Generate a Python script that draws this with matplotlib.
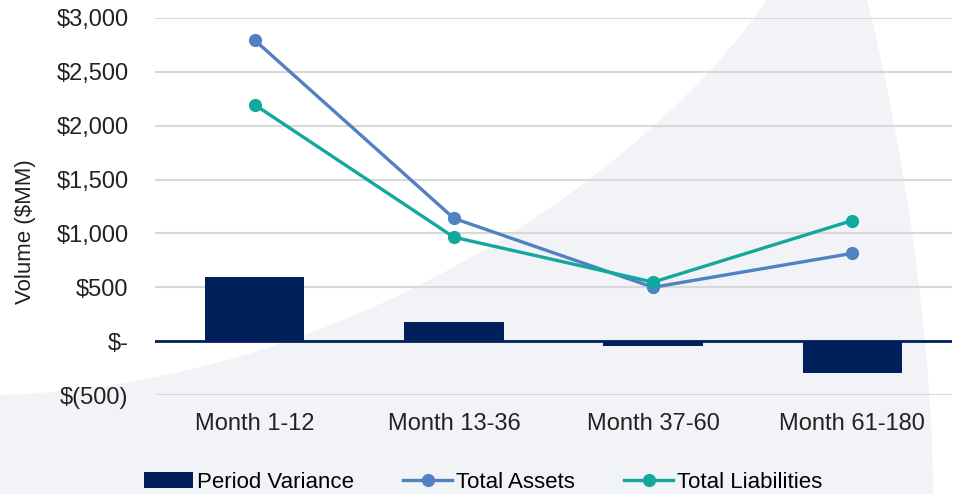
import matplotlib.pyplot as plt
from matplotlib.path import Path
from matplotlib.patches import PathPatch
from matplotlib.transforms import Affine2D

categories = ['Month 1-12', 'Month 13-36', 'Month 37-60', 'Month 61-180']
period_variance = [600, 175, -48, -300]
total_assets = [2795, 1140, 500, 815]
total_liabilities = [2195, 965, 548, 1120]
y_ticks = [-500, 0, 500, 1000, 1500, 2000, 2500, 3000]
y_tick_labels = ['$(500)', '$-', '$500', '$1,000', '$1,500', '$2,000', '$2,500', '$3,000']

navy = '#00205B'
blue = '#5081C0'
teal = '#13A89E'

plt.rcParams['font.family'] = ['Liberation Sans', 'DejaVu Sans']

W, H = 957, 494
fig = plt.figure(figsize=(W / 100, H / 100), dpi=100)

# decorative light background shape, drawn in pixel coords (y down)
verts = [(0, 395), (350, 385), (650, 170), (767, 0),
         (867, 0),
         (905, 150), (933, 350), (933, 494),
         (0, 494), (0, 395)]
codes = [Path.MOVETO, Path.CURVE4, Path.CURVE4, Path.CURVE4,
         Path.LINETO,
         Path.CURVE4, Path.CURVE4, Path.CURVE4,
         Path.LINETO, Path.CLOSEPOLY]
pix = Affine2D().scale(1 / W, -1 / H).translate(0, 1) + fig.transFigure
fig.patches.append(PathPatch(Path(verts, codes), facecolor='#F1F3F7',
                             edgecolor='none', transform=pix, zorder=-5))

ax = fig.add_axes([155 / W, 1 - 395 / H, (952 - 155) / W, (395 - 18) / H])
ax.set_facecolor('none')
ax.set_zorder(1)

x = range(len(categories))
bars = ax.bar(x, period_variance, width=0.5, color=navy, label='Period Variance', zorder=2)
la, = ax.plot(x, total_assets, color=blue, lw=2.4, marker='o', ms=8.5,
              label='Total Assets', zorder=3)
ll, = ax.plot(x, total_liabilities, color=teal, lw=2.4, marker='o', ms=8.5,
              label='Total Liabilities', zorder=4)

ax.set_xlim(-0.5, len(categories) - 0.5)
ax.set_ylim(-500, 3000)
ax.set_yticks(y_ticks)
ax.set_yticklabels(y_tick_labels)
ax.set_xticks(list(x))
ax.set_xticklabels(categories)
ax.tick_params(axis='both', length=0, labelsize=17, colors='#222222')
ax.tick_params(axis='y', pad=19)
ax.tick_params(axis='x', pad=13)

ax.grid(axis='y', color='#D9D9D9', lw=1.5, zorder=1)
ax.axhline(0, color=navy, lw=2, zorder=2.5)
for s in ax.spines.values():
    s.set_visible(False)

fig.text(25 / W, 1 - 232 / H, 'Volume ($MM)', rotation=90, ha='center',
         va='center', fontsize=16, color='#222222')

fig.legend(handles=[bars, la, ll], loc='center', bbox_to_anchor=(0.505, 1 - 482 / H),
           ncol=3, frameon=False, fontsize=16, handlelength=2.2, handleheight=0.7,
           columnspacing=2.2, handletextpad=0.2, borderaxespad=0)

fig.savefig('out.png', dpi=100)
